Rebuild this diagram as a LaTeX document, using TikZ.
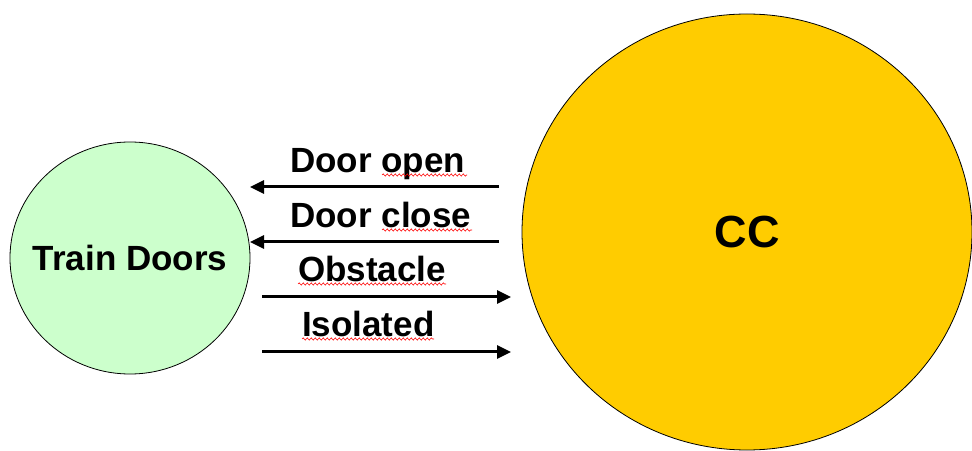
\documentclass[tikz,border=0pt]{standalone}
\usepackage{fontspec}
\setmainfont{Liberation Sans}
\usetikzlibrary{arrows.meta,shapes.geometric,decorations.pathmorphing}
\definecolor{doorgreen}{HTML}{CCFFCC}
\definecolor{ccyellow}{HTML}{FFCC00}
\begin{document}
\begin{tikzpicture}[x=1pt, y=1pt, font=\bfseries\fontsize{35}{40}\selectfont,
  unit/.style={ellipse, draw=black, line width=0.8pt, inner sep=0pt, fill=#1},
  sig/.style={line width=3pt, -{Triangle[length=14pt, width=13pt]}},
  lbl/.style={anchor=base west, inner sep=0pt},
  spell/.style={draw=red, line width=0.6pt, decorate, decoration={snake, segment length=4pt, amplitude=1.1pt}}]
  \useasboundingbox (0,0) rectangle (972,450);
  \node[unit=doorgreen, minimum width=240pt, minimum height=232pt,
        label={[inner sep=0pt]center:Train Doors}] (doors) at (130,192) {};
  \node[unit=ccyellow, minimum width=450pt, minimum height=436pt,
        label={[inner sep=0pt, font=\bfseries\fontsize{45}{50}\selectfont]center:CC}] (cc) at (747,218) {};
  % signals between the units
  \coordinate (open-r) at (499,263);  \coordinate (open-l) at (250,263);
  \coordinate (close-r) at (499,208); \coordinate (close-l) at (250,208);
  \coordinate (obst-l) at (262,153);  \coordinate (obst-r) at (511,153);
  \coordinate (iso-l) at (262,98);    \coordinate (iso-r) at (511,98);
  \draw[sig] (open-r) -- (open-l);
  \draw[sig] (close-r) -- (close-l);
  \draw[sig] (obst-l) -- (obst-r);
  \draw[sig] (iso-l) -- (iso-r);
  \node[lbl] (lopen) at (290,277) {Door open};
  \node[lbl] (lclose) at (290,222) {Door close};
  \node[lbl] (lobst) at (298,168) {Obstacle};
  \node[lbl] (liso) at (302,113) {Isolated};
  % spell-check marks
  \draw[spell] (382,275) -- (467,275);
  \draw[spell] (382,220) -- (472,220);
  \draw[spell] (298,166) -- (446,166);
  \draw[spell] (302,111) -- (434,111);
\end{tikzpicture}
\end{document}
